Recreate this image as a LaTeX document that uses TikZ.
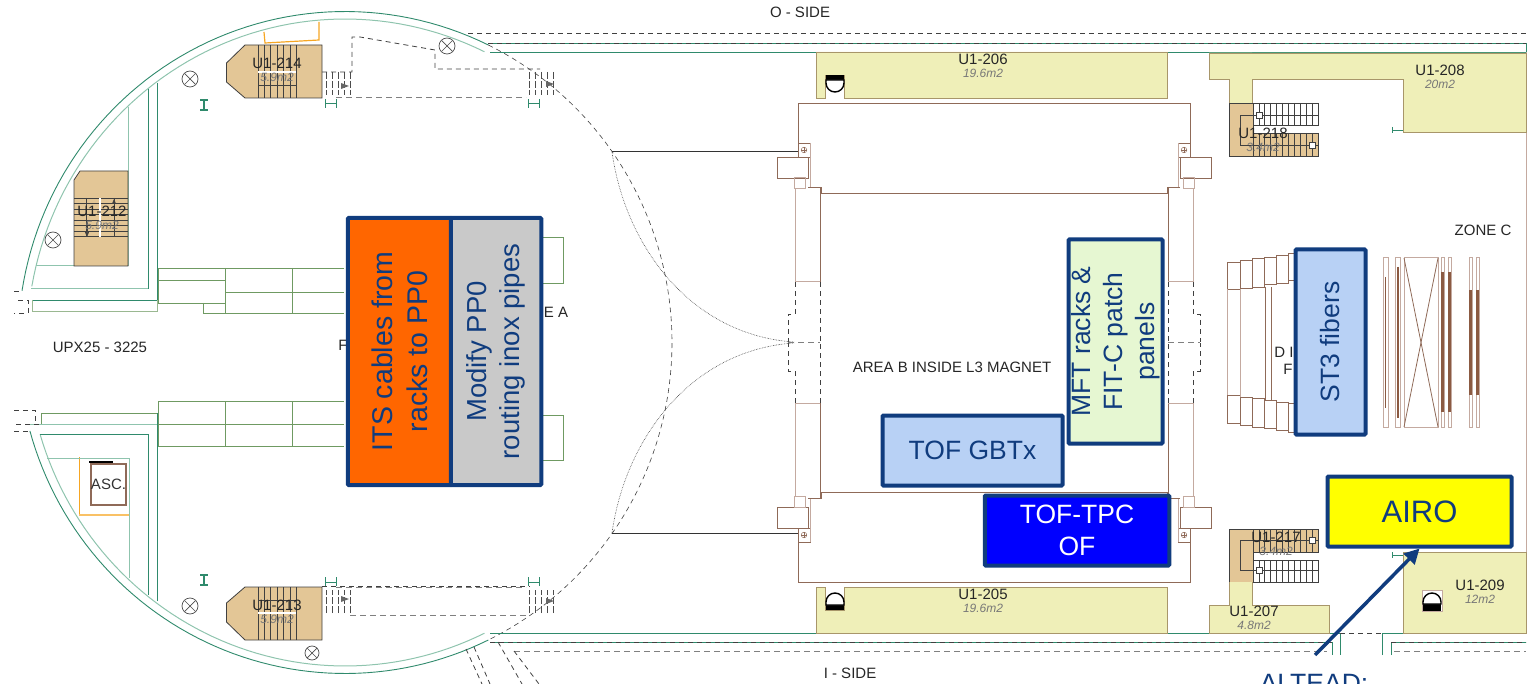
\documentclass[tikz,border=0pt]{standalone}
\usepackage{fontspec}
\setmainfont{Liberation Sans}
\usetikzlibrary{positioning, arrows.meta}

\definecolor{navyline}{HTML}{103C7E}
\definecolor{wallgreen}{HTML}{2F8A6C}
\definecolor{palegreen}{HTML}{8FC4AE}
\definecolor{pipegreen}{HTML}{6F9A62}
\definecolor{roomyellow}{HTML}{EFEFB8}
\definecolor{roomedge}{HTML}{A8966A}
\definecolor{stairtan}{HTML}{E3C696}
\definecolor{magnetbrown}{HTML}{8F6A58}
\definecolor{palebrown}{HTML}{C4AAA0}
\definecolor{solidbrown}{HTML}{8B5A42}
\definecolor{liftorange}{HTML}{F6A623}
\definecolor{itsorange}{HTML}{FF6600}
\definecolor{pipegray}{HTML}{C9C9C9}
\definecolor{tofblue}{HTML}{B8D1F5}
\definecolor{mftgreen}{HTML}{E6F7D2}
\definecolor{labelgray}{HTML}{777777}
\definecolor{airoyellow}{HTML}{FFFF00}
\definecolor{ofblue}{HTML}{0000FF}

\begin{document}
\begin{tikzpicture}[x=1pt, y=-1pt,
  wall/.style = {draw=wallgreen, line width=0.9pt},
  palewall/.style = {draw=palegreen, line width=1pt},
  pipe/.style = {draw=pipegreen, line width=0.8pt},
  room/.style = {draw=roomedge, fill=roomyellow, line width=0.9pt},
  stairblock/.style = {draw=black!75, fill=stairtan, line width=0.8pt},
  tread/.style = {draw=black!75, line width=0.7pt},
  magnet/.style = {draw=magnetbrown, line width=0.8pt},
  palemagnet/.style = {draw=palebrown, line width=1pt},
  hidden/.style = {draw=black!75, line width=0.8pt, dash pattern=on 5pt off 4pt},
  hiddengray/.style = {draw=black!50, line width=1pt, dash pattern=on 6pt off 4pt},
  lamp/.style = {draw=black!70, line width=0.7pt},
  plaintext/.style = {inner sep=0pt, font=\fontsize{15}{17}\selectfont, text=black!85},
  areatext/.style = {inner sep=0pt, font=\itshape\fontsize{12}{14}\selectfont, text=labelgray},
  job/.style = {draw=navyline, line width=4pt, rounded corners=1pt, text=navyline, inner sep=0pt,
    align=center, font=\fontsize{26.5}{32}\selectfont},
  pointer/.style = {draw=navyline, line width=3.5pt, -{Triangle[length=15pt, width=15pt]}},
  node distance = 4pt and 4pt]

  \useasboundingbox (0,0) rectangle (1528,684);

  \draw[wall] plot[domain=-171:-64, samples=60] ({345+327*cos(\x)}, {342.5+331*sin(\x)});
  \draw[palewall] plot[domain=-170:-64, samples=60] ({345+318*cos(\x)}, {342.5+323.5*sin(\x)});
  \draw[wall] plot[domain=64:164.5, samples=60] ({345+327*cos(\x)}, {342.5+331*sin(\x)});
  \draw[palewall] plot[domain=64:163.5, samples=60] ({345+318*cos(\x)}, {342.5+323.5*sin(\x)});
  \draw[hidden, line width=0.6pt] plot[domain=-64:64, samples=80] ({345+327*cos(\x)}, {342.5+331*sin(\x)});
  \draw[draw=black!75, line width=0.6pt, densely dotted] (612,152) .. controls (625,245) and (690,335) .. (794,342);
  \draw[draw=black!75, line width=0.6pt, densely dotted] (612,533) .. controls (625,440) and (690,350) .. (794,343);
  \draw[draw=black!80, line width=0.9pt] (612,151) -- (798,151);
  \draw[draw=black!80, line width=0.9pt] (612,533) -- (798,533);

  \draw[wall] (157,83) -- (157,300) -- (32,300);
  \draw[wall] (148,89) -- (148,289);
  \draw[palewall] (31,289) -- (148,289);
  \draw[palewall] (128.5,107) -- (128.5,266) -- (36,266);
  \draw[draw=pipegreen!70, line width=1pt] (32,300) -- (32,312) -- (157,312) -- (157,300);
  \draw[hidden] (14,291) -- (22,291);
  \draw[hidden] (18,300) -- (28,300) -- (28,313) -- (14,313);

  \draw[wall] (157,601) -- (157,413);
  \draw[palewall] (30,424) -- (157,424);
  \draw[wall] (40,434) -- (148,434) -- (148,595);
  \draw[palewall] (47,458) -- (129,458) -- (129,578);
  \draw[pipe] (41,424) -- (41,413) -- (157,413);
  \draw[hidden] (14,410) -- (35,410) -- (35,424);
  \draw[hidden] (16,424) -- (40,424);
  \draw[hidden] (14,431) -- (30,431);

  \draw[pipe] (158,303) -- (158,268) -- (344,268);
  \draw[pipe] (158,280) -- (225,280);
  \draw[pipe] (158,303) -- (225,303);
  \draw[pipe] (203,303) -- (203,313) -- (344,313);
  \draw[pipe] (225,292) -- (344,292);
  \draw[pipe] (225,268) -- (225,313);
  \draw[pipe] (292,268) -- (292,313);
  \draw[pipe] (158,401) -- (344,401);
  \draw[pipe] (158,424) -- (344,424);
  \draw[pipe] (158,446) -- (344,446);
  \draw[pipe] (158,401) -- (158,446);
  \draw[pipe] (225,401) -- (225,446);
  \draw[pipe] (292,401) -- (292,446);
  \draw[pipe] (543,237) -- (563,237) -- (563,283) -- (543,283);
  \draw[pipe] (543,415) -- (563,415) -- (563,460) -- (543,460);

  \draw[wall] (488,43) -- (1526,43);
  \draw[hidden] (468,33) -- (1526,33);
  \draw[hidden] (488,43) -- (1526,43);
  \draw[wall] (490,52) -- (1526,52);
  \draw[wall] (1526,43) -- (1526,52);
  \draw[draw=palebrown, line width=1pt] (1526,52) -- (1526,633);

  \draw[wall] (490,633) -- (1340,633) -- (1340,655);
  \draw[hidden] (1340,633) -- (1382,633);
  \draw[wall] (1382,655) -- (1382,633) -- (1526,633);
  \draw[wall] (490,642) -- (1332,642) -- (1332,655);
  \draw[hidden] (490,642) -- (1332,642);
  \draw[wall] (1391,655) -- (1391,642) -- (1526,642);
  \draw[hidden] (1391,642) -- (1526,642);
  \draw[hiddengray] (514,651) -- (1327,651);
  \draw[hiddengray] (1394,651) -- (1526,651);
  \draw[hidden] (466,649) -- (482,684);
  \draw[hidden] (474,647) -- (490,684);
  \draw[hidden] (498,642) -- (522,684);
  \draw[hidden] (514,651) -- (539,684);

  \draw[draw=liftorange, line width=1.2pt] (264,32) -- (265,43) -- (319,40) -- (319,22);
  \draw[draw=liftorange, line width=1pt] (79,457) -- (79,515);
  \draw[draw=liftorange!70, line width=2.5pt] (79,515) -- (129,515);
  \draw[palewall] (47,458) -- (129,458);
  \draw[draw=black, line width=1.6pt] (89,462) -- (113,462);
  \node[draw=magnetbrown, line width=1.2pt, minimum width=32.5pt, minimum height=41pt, inner sep=0pt,
    font=\fontsize{15}{17}\selectfont, text=black!80] (asc) at (108.5,484.5) {ASC.};

  \foreach \sy/\dy in {1/0, -1/-685} {
    \begin{scope}[yshift=\dy pt, yscale=\sy]
      \draw[stairblock] (245,45) -- (322,45) -- (322,98) -- (245,98) -- (226.5,82) -- (226.5,63) -- cycle;
      \foreach \tx in {258,264.4,...,297} {
        \draw[tread] (\tx,45) -- (\tx,98);
      }
      \draw[tread] (258,85) -- (296,85);
      \draw[draw=white, line width=2pt] (258,72) -- (296,72);
      \draw[hiddengray] (336,98) -- (526,98);
      \foreach \tx in {326,332,338,344,350,529,535,541,547,553} {
        \draw[draw=black!70, line width=0.6pt, dash pattern=on 7pt off 2pt] (\tx,72) -- (\tx,95);
      }
      \fill[black!60] (341,83) -- (349,86) -- (341,89) -- cycle;
      \fill[black!60] (546,81) -- (554,84) -- (546,87) -- cycle;
      \draw[wall] (325,99) -- (325,108);
      \draw[wall] (336,99) -- (336,108);
      \draw[wall] (325,103) -- (336,103);
      \draw[wall] (528,99) -- (528,108);
      \draw[wall] (539,99) -- (539,108);
      \draw[wall] (528,103) -- (539,103);
      \draw[draw=wallgreen, line width=1.2pt] (200,100) -- (208,100);
      \draw[draw=wallgreen, line width=1.2pt] (200,110) -- (208,110);
      \draw[draw=wallgreen, line width=1.2pt] (204,100) -- (204,110);
      \draw[lamp] (190,79) circle (8);
      \draw[lamp] (184.5,73.5) -- (195.5,84.5);
      \draw[lamp] (184.5,84.5) -- (195.5,73.5);

      \draw[room] (816,52) -- (1167,52) -- (1167,98) -- (844,98) -- (844,75) -- (825,75) -- (825,98) -- (816,98) -- cycle;
      \fill[black] (826,75) rectangle (844,80);
      \draw[draw=black, fill=white, line width=1.4pt] (826,80) -- (826,83) arc[start angle=180, end angle=0, radius=9] -- (844,80) -- cycle;

      \draw[room] (1229,103) -- (1229,79) -- (1209,79) -- (1209,53) -- (1252,53) -- (1252,103) -- cycle;
      \draw[stairblock] (1229,103) -- (1253,103) -- (1253,156) -- (1229,156) -- cycle;
      \fill[stairtan] (1253,133) rectangle (1318,156);
      \foreach \tx in {1253,1258.9,...,1319} {
        \draw[tread] (\tx,103) -- (\tx,125);
        \draw[tread] (\tx,133) -- (\tx,156);
      }
      \draw[tread] (1253,103) rectangle (1318,125);
      \draw[tread] (1253,133) rectangle (1318,156);
      \draw[tread] (1318,115) -- (1240,115) -- (1240,145) -- (1318,145);
      \draw[tread, fill=white] (1256,112) -- (1262,112) -- (1262,118) -- (1256,118) -- cycle;
      \draw[tread, fill=white] (1309,142) -- (1315,142) -- (1315,148) -- (1309,148) -- cycle;

      \foreach \sx/\dx in {1/0, -1/1988} {
        \begin{scope}[xshift=\dx pt, xscale=\sx]
          \draw[magnet] (810,103) -- (798,103) -- (798,157) -- (810,157) -- (810,143) -- (798,143);
          \draw[palemagnet] (810,143) -- (810,187);
          \draw[magnet] (808,187) -- (821,187) -- (821,193) -- (994,193);
          \draw[magnet] (810,103) -- (994,103);
          \draw[draw=magnetbrown, line width=0.5pt] (804,150) circle (2.8);
          \draw[draw=magnetbrown, line width=0.5pt] (801,150) -- (807,150);
          \draw[draw=magnetbrown, line width=0.5pt] (804,147) -- (804,153);
          \draw[magnet, fill=white] (777,157) rectangle (808,178);
          \draw[palemagnet] (794,178) rectangle (805,189);
          \draw[palemagnet] (795,189) -- (795,282);
          \draw[magnet] (820,187) -- (820,282);
          \draw[palemagnet] (795,282) -- (820,282);
          \draw[hidden, line width=0.7pt] (795,282) -- (795,314) -- (788,314) -- (788,342);
          \draw[hidden, line width=0.7pt] (820,282) -- (820,342);
        \end{scope}
      }
    \end{scope}
  }
  \draw[hiddengray, line width=0.7pt] (788,342) -- (820,342);
  \draw[hiddengray, line width=0.7pt] (1168,342) -- (1200,342);

  \draw[room] (1252,53) -- (1526,53) -- (1526,132) -- (1403,132) -- (1403,79) -- (1252,79);
  \draw[draw=roomyellow, line width=2pt] (1209.6,79) -- (1229,79);
  \draw[room] (1209,53) -- (1252,53);
  \draw[room] (1209,53) -- (1209,79) -- (1229,79);
  \draw[wall] (1392,130) -- (1403,130);
  \draw[wall] (1392,127) -- (1392,133);
  \draw[room] (1229,582) -- (1229,605) -- (1209,605) -- (1209,633) -- (1329,633) -- (1329,605) -- (1252,605) -- (1252,582);
  \draw[room] (1403,552) -- (1526,552) -- (1526,633) -- (1403,633) -- cycle;
  \draw[draw=palebrown, fill=white, line width=1pt] (1422,590) rectangle (1442,611);
  \fill[black] (1423,604) rectangle (1441,611);
  \draw[draw=black, fill=white, line width=1.4pt] (1423,604) -- (1423,602) arc[start angle=180, end angle=360, radius=9] -- (1441,604) -- cycle;
  \draw[wall] (1392,555) -- (1403,555);
  \draw[wall] (1392,552) -- (1392,558);

  \draw[stairblock] (80,171) -- (128,171) -- (128,266) -- (74,266) -- (74,180) -- cycle;
  \foreach \ty in {198,203.5,...,238} {
    \draw[tread] (74,\ty) -- (128,\ty);
  }
  \draw[tread] (86,198) -- (86,237);
  \draw[tread] (114,198) -- (114,237);
  \draw[draw=white, line width=2pt] (100,198) -- (100,237);
  \draw[-{Triangle[length=5pt, width=4pt]}, tread] (114,212) -- (114,199);
  \draw[-{Triangle[length=5pt, width=4pt]}, tread] (87,222) -- (87,237);

  \foreach \fx/\fy/\fw/\fh in {1227/262/13/27, 1240/260/12/28, 1252/258/12/29, 1264/257/12/27, 1276/255/12/28, 1288/253/6/27,
    1227/395/13/28, 1240/397/12/28, 1252/398/12/29, 1264/400/12/28, 1276/402/12/28, 1288/403/6/29} {
    \draw[magnet] (\fx,\fy) rectangle ++(\fw,\fh);
  }
  \draw[palemagnet] (1227,289) -- (1227,395);
  \draw[palemagnet] (1240,289) -- (1240,397);
  \draw[magnet] (1265,287) -- (1265,400);
  \draw[magnet] (1271,287) -- (1271,400);

  \foreach \px/\pw in {1383/5, 1395/5, 1441/3, 1448/3, 1469/3, 1476/3} {
    \draw[palemagnet] (\px,258) rectangle ++(\pw,169);
  }
  \draw[palemagnet] (1404,258) rectangle (1438,427);
  \draw[magnet] (1404,258) -- (1438,427);
  \draw[magnet] (1438,258) -- (1404,427);
  \foreach \px/\ptop/\pbot/\pthick in {1385.5/277/408/1.5, 1397.5/267/418/2, 1442.5/272/412/2.5, 1449.5/272/412/2.5, 1470.5/290/395/3, 1477.5/290/395/3} {
    \draw[draw=solidbrown, line width=\pthick pt] (\px,\ptop) -- (\px,\pbot);
  }

  \draw[hidden] (322,72) -- (352,72) -- (352,37) -- (360,37) -- (435,50) -- (435,69) -- (540,69);
  \draw[hiddengray] (350,615) -- (526,615);
  \draw[hidden] (322,586) -- (530,586);
  \draw[lamp] (447,46) circle (8);
  \draw[lamp] (441.5,40.5) -- (452.5,51.5);
  \draw[lamp] (441.5,51.5) -- (452.5,40.5);
  \draw[lamp] (53,240) circle (8);
  \draw[lamp] (47.5,234.5) -- (58.5,245.5);
  \draw[lamp] (47.5,245.5) -- (58.5,234.5);
  \draw[lamp] (312,653) circle (7);
  \draw[lamp] (307,648) -- (317,658);
  \draw[lamp] (307,658) -- (317,648);

  \node[plaintext] (oside) at (800,12) {O - SIDE};
  \node[plaintext] (iside) at (850,673) {I - SIDE};
  \node[plaintext] (upx) at (100,347) {UPX25 - 3225};
  \node[plaintext] (areab) at (952,367) {AREA B INSIDE L3 MAGNET};
  \node[plaintext] (zonec) at (1483,230) {ZONE C};
  \node[plaintext] (areaa) at (556,312) {E A};
  \node[plaintext] (areap) at (343,345) {F};
  \node[plaintext] (dipole) at (1284,352) {D I};
  \node[plaintext] (fipole) at (1288,369) {F};

  \node[plaintext] (r206) at (983,59) {U1-206};
  \node[areatext, below = of r206] (a206) {19.6m2};
  \node[plaintext] (r205) at (983,594) {U1-205};
  \node[areatext, below = of r205] (a205) {19.6m2};
  \node[plaintext] (r208) at (1440,70) {U1-208};
  \node[areatext, below = of r208] (a208) {20m2};
  \node[plaintext] (r209) at (1480,585) {U1-209};
  \node[areatext, below = of r209] (a209) {12m2};
  \node[plaintext] (r207) at (1254,611) {U1-207};
  \node[areatext, below = of r207] (a207) {4.8m2};
  \node[plaintext] (r214) at (277,63) {U1-214};
  \node[areatext, below = of r214] (a214) {5.9m2};
  \node[plaintext] (r213) at (277,605) {U1-213};
  \node[areatext, below = of r213] (a213) {5.9m2};
  \node[plaintext] (r212) at (102,211) {U1-212};
  \node[areatext, below = of r212] (a212) {5.9m2};
  \node[plaintext] (r218) at (1263,133) {U1-218};
  \node[areatext, below = of r218] (a218) {3.4m2};
  \node[plaintext] (r217) at (1276,537) {U1-217};
  \node[areatext, below = of r217] (a217) {3.4m2};

  \node[job, fill=itsorange, rotate=90, minimum width=267pt, minimum height=103.5pt, font=\fontsize{28.5}{35}\selectfont] (its) at (399.5,351.5) {ITS cables from\\racks to PP0};
  \node[job, fill=pipegray, rotate=90, minimum width=267pt, minimum height=90.5pt, font=\fontsize{27.5}{33}\selectfont] (pp0) at (496,351.5) {Modify PP0\\routing inox pipes};
  \node[job, fill=mftgreen, rotate=90, minimum width=204pt, minimum height=94pt] (mft) at (1115.5,341.5) {MFT racks \&\\FIT-C patch\\panels};
  \node[job, fill=tofblue, rotate=90, minimum width=185pt, minimum height=70pt] (st3) at (1330.5,342) {ST3 fibers};
  \node[job, fill=tofblue, minimum width=180pt, minimum height=70pt] (gbtx) at (972.5,450.5) {TOF GBTx};
  \node[job, fill=ofblue, text=white, minimum width=184.5pt, minimum height=70pt] (oftpc) at (1077,530.5) {TOF-TPC\\OF};
  \node[job, fill=airoyellow, minimum width=184pt, minimum height=70pt, font=\fontsize{31}{36}\selectfont] (airo) at (1419.5,511.5) {AIRO};

  \node[inner sep=0pt, anchor=base, text=navyline, font=\fontsize{26.5}{32}\selectfont] (altead) at (1314,692) {ALTEAD:};
  \coordinate (alteadfoot) at (1315,655);
  \draw[pointer] (alteadfoot) -- (airo.south);
\end{tikzpicture}
\end{document}
